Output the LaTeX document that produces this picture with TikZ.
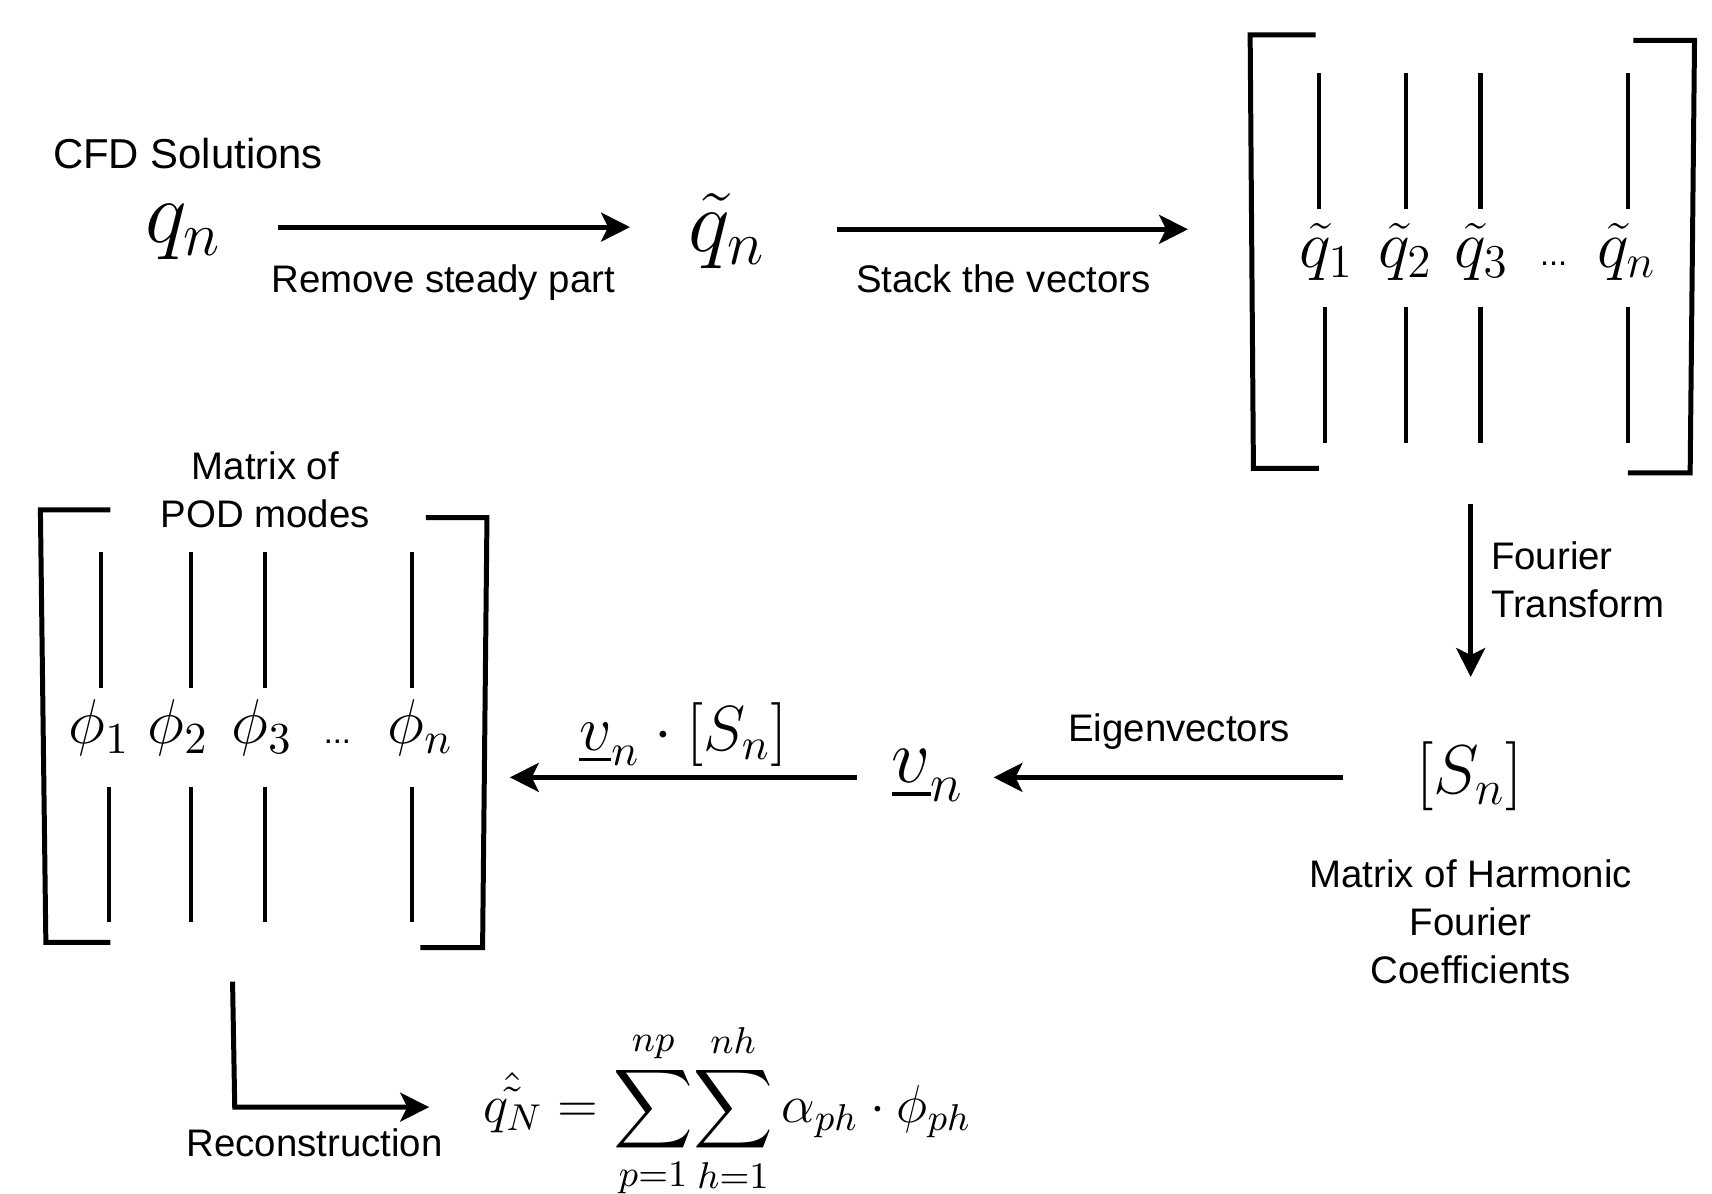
\RequirePackage{fix-cm}
\documentclass[tikz,border=0pt]{standalone}
\usepackage{amsmath}
\usepackage[no-math]{fontspec}
\newfontfamily\labfont{Liberation Sans}
\usetikzlibrary{arrows.meta}
\begin{document}
\begin{tikzpicture}[x=0.01cm,y=-0.01cm,
  lab/.style={font=\labfont\fontsize{10}{12.5}\selectfont, inner sep=0pt},
  mth/.style={inner sep=0pt, anchor=base},
  conn/.style={line width=1.3pt, -{Stealth[length=7.5pt,width=7.5pt,inset=1.8pt]}},
  brk/.style={line width=1.3pt, line join=miter},
  col/.style={line width=1.1pt},
  dotsty/.style={font=\labfont\fontsize{8.5}{10}\selectfont, inner sep=0pt, anchor=base}]
\useasboundingbox (0,0) rectangle (1568,1093);

% ---------- top row ----------
\node[lab, anchor=base west, font=\labfont\fontsize{10.9}{13}\selectfont] (cfd) at (48,154) {CFD Solutions};
\node[mth, font=\fontsize{23}{27}\selectfont] (qn) at (168,222) {$q_n$};
\node[mth, font=\fontsize{23}{27}\selectfont] (qtn) at (666,230) {$\tilde{q}_n$};
\node[lab, anchor=base] (rsp) at (406,268) {Remove steady part};
\node[lab, anchor=base] (stk) at (919,268) {Stack the vectors};

\coordinate (a1s) at (255,208);
\coordinate (a1e) at (577,208);
\coordinate (a2s) at (767,210);
\coordinate (a2e) at (1088,210);
\draw[conn] (a1s) -- (a1e);
\draw[conn] (a2s) -- (a2e);

% ---------- stacked matrix ----------
\draw[brk] (1205,32) -- (1145,32) -- (1148,429) -- (1208,429);
\draw[brk] (1496,37) -- (1552,37) -- (1548,433) -- (1491,433);
\foreach \xu/\xl in {1208/1213.5, 1288/1288, 1356/1356, 1491/1491}{
  \draw[col] (\xu,67) -- (\xu,191);
  \draw[col] (\xl,281) -- (\xl,406);
}
\node[mth, font=\fontsize{17.5}{21}\selectfont] (qt1) at (1215,245) {$\tilde{q}_1$};
\node[mth, font=\fontsize{17.5}{21}\selectfont] (qt2) at (1287,245) {$\tilde{q}_2$};
\node[mth, font=\fontsize{17.5}{21}\selectfont] (qt3) at (1357,245) {$\tilde{q}_3$};
\node[dotsty] (qdots) at (1423,243) {...};
\node[mth, font=\fontsize{17.5}{21}\selectfont] (qtN) at (1490,245) {$\tilde{q}_n$};

% ---------- Fourier transform ----------
\coordinate (a3s) at (1347,462);
\coordinate (a3e) at (1347,620);
\draw[conn] (a3s) -- (a3e);
\node[lab, anchor=north west, align=left] (ft) at (1365,495) {Fourier\\Transform};

\node[mth, font=\fontsize{18}{21}\selectfont] (Sn) at (1346,727) {$[S_n]$};
\node[lab, anchor=north, align=center] (mhf) at (1347,787) {Matrix of Harmonic\\Fourier\\Coefficients};

% ---------- eigenvectors ----------
\coordinate (a4s) at (1230,712);
\coordinate (a4e) at (910,712);
\draw[conn] (a4s) -- (a4e);
\node[lab, anchor=base] (eig) at (1080,679) {Eigenvectors};
\node[mth, font=\fontsize{20}{24}\selectfont] (vn) at (850,717) {$\underline{v}_n$};

\coordinate (a5s) at (785,712);
\coordinate (a5e) at (467,712);
\draw[conn] (a5s) -- (a5e);
\node[mth, font=\fontsize{16.6}{20}\selectfont] (vs) at (626,687) {$\underline{v}_n\cdot[S_n]$};

% ---------- POD matrix ----------
\node[lab, anchor=north, align=center] (podl) at (243,413) {Matrix of\\POD modes};
\draw[brk] (101,467) -- (37,467) -- (42,863) -- (101,863);
\draw[brk] (390,474) -- (446,474) -- (442,868) -- (385,868);
\foreach \xu/\xl in {92.5/100, 175/175, 242.5/242.5, 377.6/377.6}{
  \draw[col] (\xu,506) -- (\xu,630);
  \draw[col] (\xl,721) -- (\xl,844);
}
\node[mth, font=\fontsize{16.5}{19}\selectfont] (ph1) at (91,681) {$\phi_1$};
\node[mth, font=\fontsize{16.5}{19}\selectfont] (ph2) at (163,681) {$\phi_2$};
\node[mth, font=\fontsize{16.5}{19}\selectfont] (ph3) at (240,681) {$\phi_3$};
\node[dotsty] (pdots) at (309,681) {...};
\node[mth, font=\fontsize{16.5}{19}\selectfont] (phN) at (385,681) {$\phi_n$};

% ---------- reconstruction ----------
\coordinate (a6s) at (213,899);
\coordinate (a6c) at (215,1014);
\coordinate (a6e) at (393,1014);
\draw[conn, line join=miter] (a6s) -- (a6c) -- (a6e);
\node[lab, anchor=base] (rec) at (288,1059) {Reconstruction};
\node[mth, font=\fontsize{13.9}{17}\selectfont] (eq) at (666,1028)
  {$\displaystyle \hat{\tilde{q_N}} = \sum_{p=1}^{np}\!\sum_{h=1}^{nh}\alpha_{ph}\cdot\phi_{ph}$};
\end{tikzpicture}
\end{document}
